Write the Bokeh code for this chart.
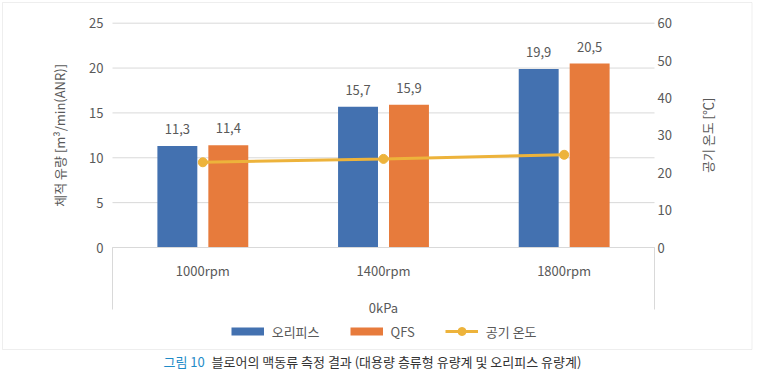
from bokeh.plotting import figure
from bokeh.models import (Range1d, LinearAxis, FixedTicker, Legend, LegendItem, Label,
                          BoxAnnotation, ColumnDataSource)
from bokeh.transform import dodge
from bokeh.embed import file_html
from bokeh.resources import INLINE
import math

# ---- data ----
categories = ["1000rpm", "1400rpm", "1800rpm"]
group_label = "0kPa"
orifice = [11.3, 15.7, 19.9]
qfs = [11.4, 15.9, 20.5]
air_temp = [22.8, 23.7, 24.8]
orifice_labels = ["11,3", "15,7", "19,9"]
qfs_labels = ["11,4", "15,9", "20,5"]
series_names = ["오리피스", "QFS", "공기 온도"]
y_ticks = [0, 5, 10, 15, 20, 25]
y2_ticks = [0, 10, 20, 30, 40, 50, 60]
y_label = "체적 유량 [m³/min(ANR)]"
y2_label = "공기 온도 [℃]"
caption_head = "그림 10"
caption_body = "블로어의 맥동류 측정 결과 (대용량 층류형 유량계 및 오리피스 유량계)"

# ---- style ----
FONT = "Noto Sans CJK KR"
BLUE = "#4371B0"
ORANGE = "#E77B3C"
GOLD = "#EDB33B"
TXT = "#595959"
GRID = "#d9d9d9"
FS = "13px"

# ---- canvas geometry (pixels) ----
W, H = 753, 372
PL, PR, PT, PB = 112, 654, 22.7, 247     # plotting area of the bars
n = len(categories)
px_x = (PR - PL) / n
px_y = (PB - PT) / (y_ticks[-1] - y_ticks[0])
k2 = (y2_ticks[-1] - y2_ticks[0]) / (y_ticks[-1] - y_ticks[0])

def X(px):
    return (px - PL) / px_x

def Y(py):
    return (PB - py) / px_y

slot = [i + 0.5 for i in range(n)]          # centre of each category slot
src = ColumnDataSource(dict(x=slot, orifice=orifice, qfs=qfs, temp=air_temp,
                            ol=orifice_labels, ql=qfs_labels))

p = figure(x_range=Range1d(X(0), X(W)), y_range=Range1d(Y(H), Y(0)),
           width=W, height=H, output_backend="svg", toolbar_location=None,
           min_border_left=0, min_border_right=0, min_border_top=0, min_border_bottom=0)
p.extra_y_ranges = {"temp": Range1d(Y(H) * k2, Y(0) * k2)}
p.outline_line_color = None
p.background_fill_color = "white"
p.border_fill_color = "white"
p.grid.visible = False

# outer frame of the figure panel
p.add_layout(BoxAnnotation(left=X(2), right=X(W - 1.5), top=Y(2), bottom=Y(349),
                           fill_alpha=0, line_color="#c8c8c8", line_width=1, level="underlay"))

# horizontal grid lines at the left-axis ticks
p.segment(x0=0, x1=n, y0=y_ticks, y1=y_ticks, line_color=GRID, line_width=1, level="underlay")

def style_axis(ax, standoff):
    ax.axis_line_color = None
    ax.major_tick_line_color = None
    ax.minor_tick_line_color = None
    ax.major_tick_out = 0
    ax.major_tick_in = 0
    ax.minor_tick_out = 0
    ax.minor_tick_in = 0
    ax.major_label_standoff = standoff
    ax.major_label_text_font = FONT
    ax.major_label_text_font_size = FS
    ax.major_label_text_color = TXT

# left axis
ya = p.yaxis[0]
ya.ticker = FixedTicker(ticks=y_ticks)
ya.fixed_location = 0
style_axis(ya, 9)

# right axis
ya2 = LinearAxis(y_range_name="temp", ticker=FixedTicker(ticks=y2_ticks), fixed_location=n)
style_axis(ya2, 3)
p.add_layout(ya2, "right")

# x axis: category labels at slot centres, bracket lines at both ends
BRACKET = 62
xa = p.xaxis[0]
xa.ticker = FixedTicker(ticks=slot, minor_ticks=[0, n])
xa.major_label_overrides = {s: c for s, c in zip(slot, categories)}
xa.fixed_location = 0
xa.bounds = (0, n)
style_axis(xa, 13 - BRACKET)
xa.axis_line_color = GRID
xa.minor_tick_line_color = GRID
xa.minor_tick_out = BRACKET

# axis titles
p.add_layout(Label(x=X(59), y=Y((PT + PB) / 2), text=y_label, angle=math.pi / 2,
                   text_align="center", text_baseline="middle",
                   text_font=FONT, text_font_size=FS, text_color=TXT))
p.add_layout(Label(x=X(707), y=Y((PT + PB) / 2), text=y2_label, angle=math.pi / 2,
                   text_align="center", text_baseline="middle",
                   text_font=FONT, text_font_size=FS, text_color=TXT))
p.add_layout(Label(x=n / 2, y=Y(307), text=group_label,
                   text_align="center", text_baseline="middle",
                   text_font=FONT, text_font_size=FS, text_color=TXT))

# bars
OFF = 0.141
BW = 0.221
r1 = p.vbar(x=dodge("x", -OFF), top="orifice", width=BW, source=src,
            fill_color=BLUE, line_color=None)
r2 = p.vbar(x=dodge("x", OFF), top="qfs", width=BW, source=src,
            fill_color=ORANGE, line_color=None)
for col, lab, off in (("orifice", "ol", -OFF), ("qfs", "ql", OFF)):
    p.text(x=dodge("x", off), y=col, text=lab, source=src,
           text_align="center", text_baseline="middle", y_offset=-17,
           text_font={"value": FONT}, text_font_size=FS, text_color=TXT)

# temperature line
rl = p.line(x="x", y="temp", y_range_name="temp", source=src, line_color=GOLD, line_width=3)
rs = p.scatter(x="x", y="temp", y_range_name="temp", source=src, size=9,
               fill_color=GOLD, line_color=GOLD)

# flat legend keys for the bar series (not drawn in the plot itself)
k_or = p.line(x="x", y="orifice", source=src, line_color=BLUE, line_width=8,
              line_cap="butt", visible=False)
k_qf = p.line(x="x", y="qfs", source=src, line_color=ORANGE, line_width=8,
              line_cap="butt", visible=False)

legend = Legend(items=[LegendItem(label=series_names[0], renderers=[k_or]),
                       LegendItem(label=series_names[1], renderers=[k_qf]),
                       LegendItem(label=series_names[2], renderers=[rl, rs])],
                location=(230.7, H - 341), orientation="horizontal", padding=0, margin=0,
                spacing=30, border_line_color=None, background_fill_alpha=0,
                glyph_width=33, glyph_height=20, label_standoff=8,
                label_text_font=FONT, label_text_font_size=FS, label_text_color=TXT)
p.add_layout(legend, "center")

# caption
p.add_layout(Label(x=X(163), y=Y(361), text=caption_head, text_baseline="middle",
                   text_font=FONT, text_font_size=FS, text_color="#1f8bc8"))
p.add_layout(Label(x=X(211), y=Y(361), text=caption_body, text_baseline="middle",
                   text_font=FONT, text_font_size=FS, text_color="#333333"))

open("out.html", "w").write(file_html(p, INLINE))
